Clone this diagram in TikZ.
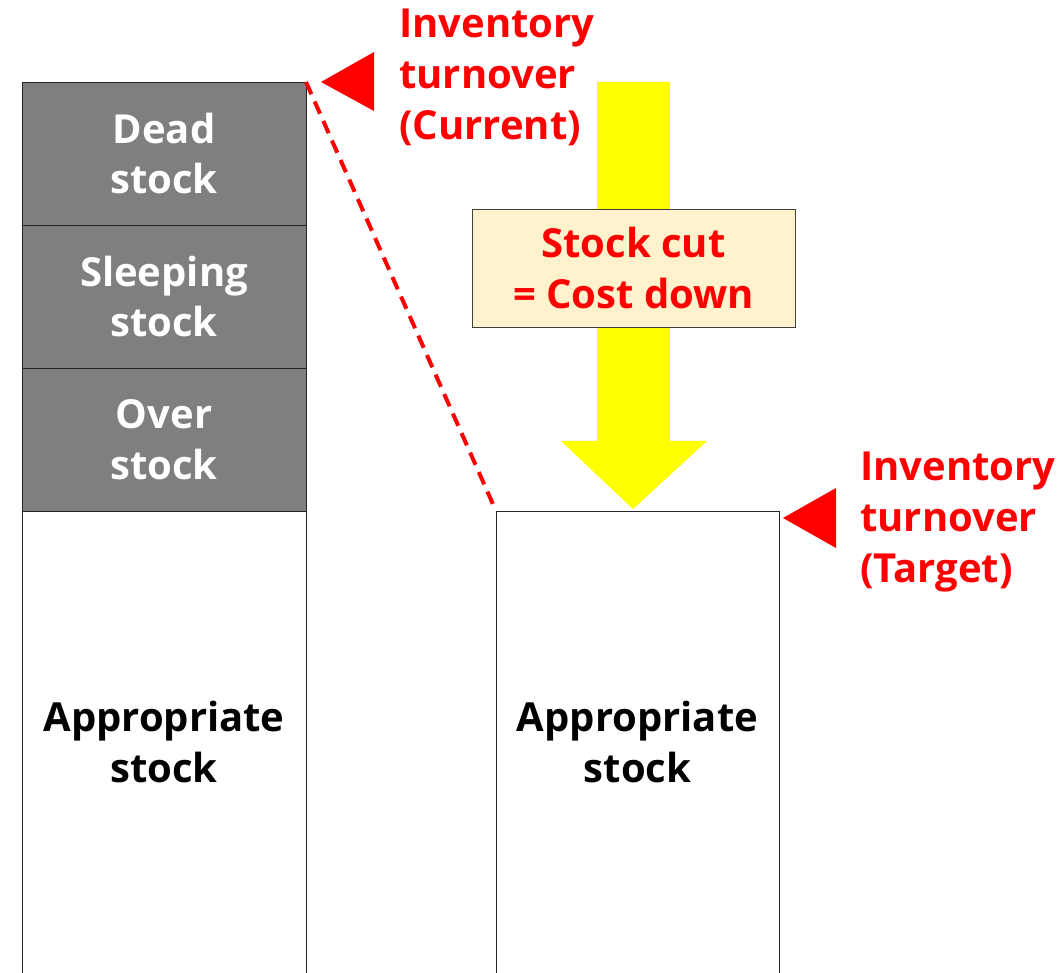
\documentclass[tikz,border=0pt]{standalone}
\usepackage{fontspec}
\setmainfont{Open Sans}
\usepackage{tikz}
\usetikzlibrary{positioning}
\definecolor{stockgray}{HTML}{7F7F7F}
\definecolor{cutcream}{HTML}{FFF2CC}
\definecolor{arrowyellow}{HTML}{FFFF00}
\definecolor{markred}{HTML}{FF0000}

\begin{document}
\begin{tikzpicture}[x=0.75pt, y=-0.75pt,
		block_style/.style={rectangle,draw=black!85,line width=0.6pt,inner sep=0pt,outer sep=0pt,
			minimum width=213pt,align=center,font=\fontsize{30}{38}\selectfont\bfseries},
		bad_style/.style={block_style,fill=stockgray,text=white,minimum height=107.25pt},
		good_style/.style={block_style,fill=white,text=black,minimum height=346.5pt},
		label_style/.style={anchor=north west,inner sep=0pt,align=left,text=markred,
			font=\fontsize{30}{38}\selectfont\bfseries},
		mark_style/.style={fill=markred}]
		
		\useasboundingbox (0,0) rectangle (1064,973);
		
		\node[bad_style] (dead) at (164,153.5) {Dead\\stock};
		\node[bad_style] (sleeping) at (164,296.5) {Sleeping\\stock};
		\node[bad_style] (over) at (164,439.5) {Over\\stock};
		\node[good_style] (appr_cur) at (164,742) {Appropriate\\stock};
		\node[good_style, minimum width=212.25pt] (appr_tgt) at (637.5,742) {Appropriate\\stock};
		
		% yellow arrow behind the box
		\fill[arrowyellow] (597,82) -- (670,82) -- (670,441) -- (707,441) -- (633,509)
			-- (561,441) -- (597,441) -- cycle;
		\node[block_style, fill=cutcream, draw=black!75, text=markred, minimum width=242.25pt,
			minimum height=88.5pt] (cut) at (633.5,268) {Stock cut\\= Cost down};
		
		\draw[markred, line width=3pt, dash pattern=on 10pt off 6pt] (dead.north east) -- (appr_tgt.north west);
		
		\fill[mark_style] (321,82) -- (374,52) -- (374,111) -- cycle;
		\fill[mark_style] (783,518) -- (836,488) -- (836,548) -- cycle;
		\node[label_style] (cur_label) at (399,9) {Inventory\\turnover\\(Current)};
		\node[label_style] (tgt_label) at (860,452) {Inventory\\turnover\\(Target)};
    
\end{tikzpicture}
\end{document}
